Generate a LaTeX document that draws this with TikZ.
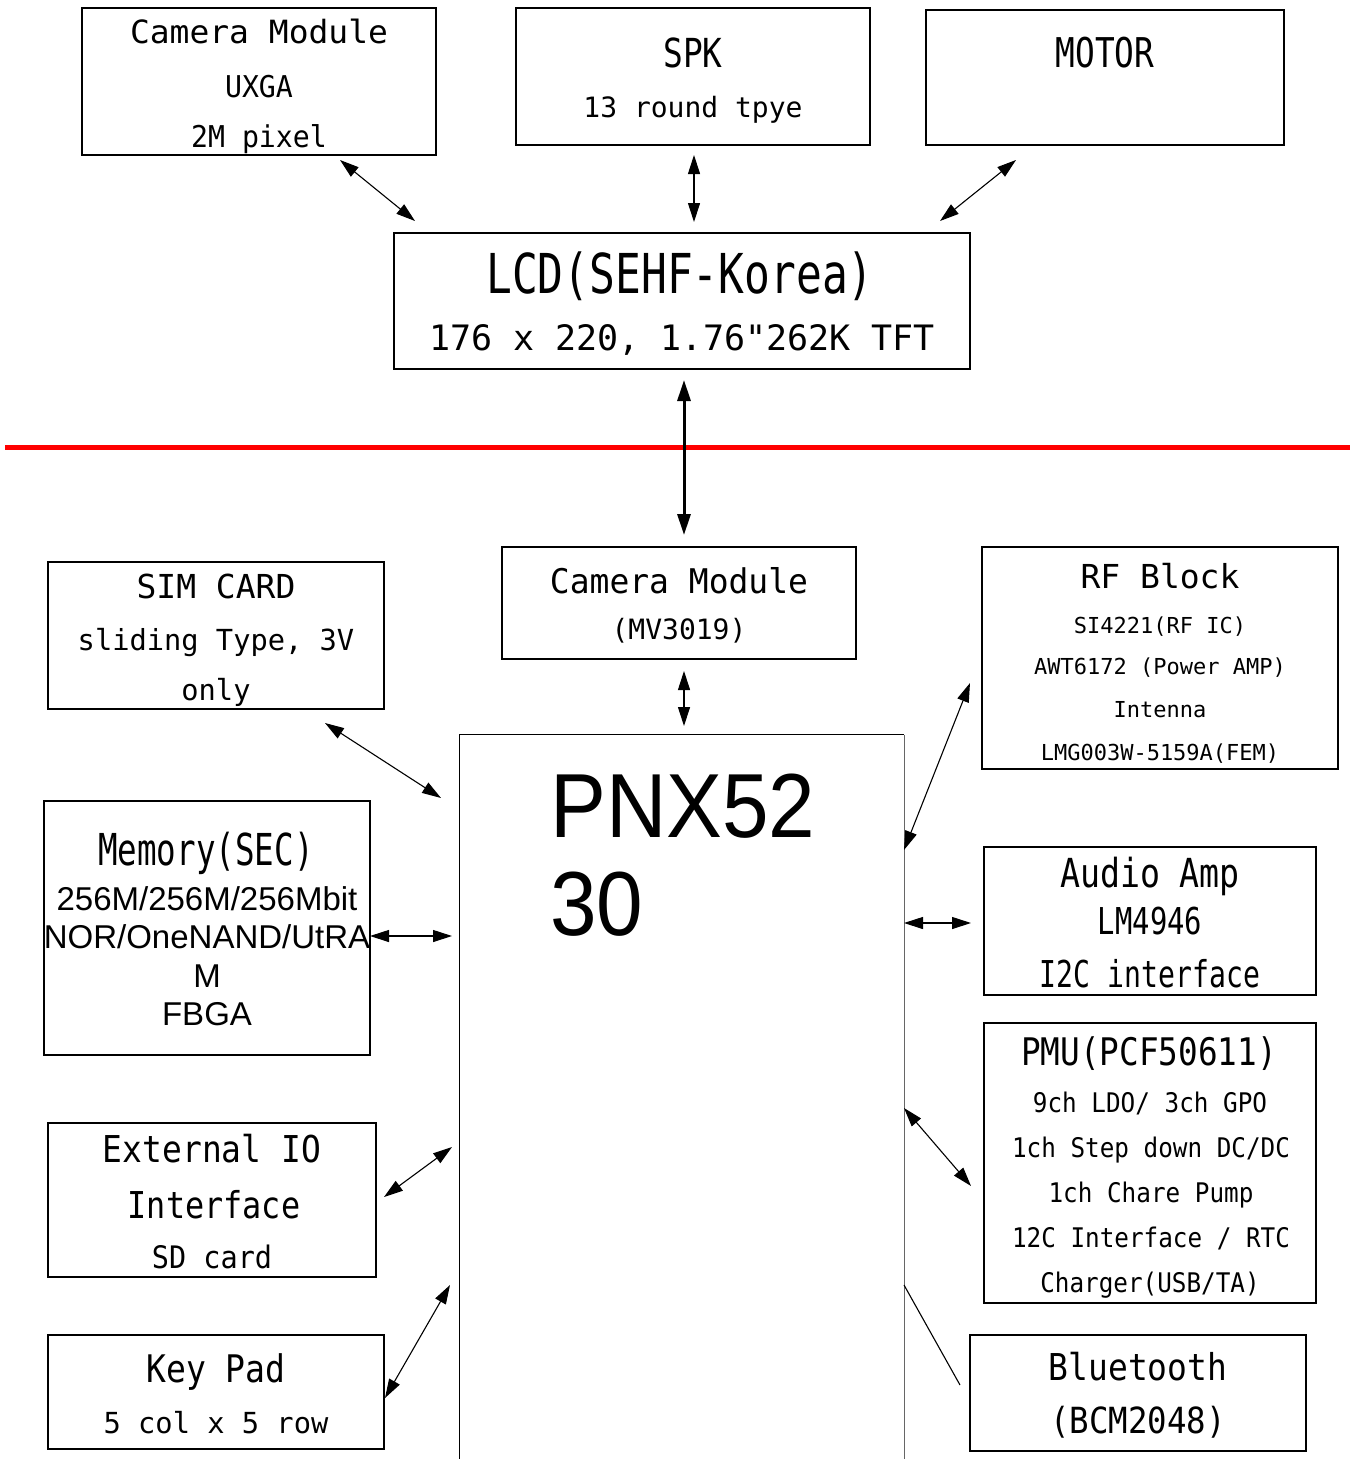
\documentclass[tikz,border=0pt]{standalone}
\usepackage{fontspec}
\usepackage{graphicx}
\setmainfont{DejaVu Sans Mono}[Ligatures=TeXOff]
\newfontfamily\arialf{Liberation Sans}
\usetikzlibrary{arrows.meta}
\newcommand\tx[3]{{\fontsize{#1}{#1}\selectfont\scalebox{#2}[1]{#3}}}
\newcommand\ta[3]{{\arialf\fontsize{#1}{#1}\selectfont\scalebox{#2}[1]{#3}}}
\begin{document}
\begin{tikzpicture}[x=1pt,y=-1pt,
  box/.style={draw, line width=1.3pt, rectangle, inner sep=0pt},
  lbl/.style={inner sep=0pt, anchor=base},
  bi/.style={{Triangle[length=19pt,width=12pt]}-{Triangle[length=19pt,width=12pt]}, line width=1.1pt},
  bithick/.style={{Triangle[length=21pt,width=13pt]}-{Triangle[length=21pt,width=13pt]}, line width=3pt},
  divider/.style={draw=red, line width=5pt}]
\useasboundingbox (0,0) rectangle (1355,1459);

% ---------- boxes ----------
\node[box, minimum width=354pt, minimum height=147pt] (camtop) at (259,81.5) {};
\node[box, minimum width=354pt, minimum height=137pt] (spk) at (693,76.5) {};
\node[box, minimum width=358pt, minimum height=135pt] (motor) at (1105,77.5) {};
\node[box, minimum width=576pt, minimum height=136pt] (lcd) at (682,301) {};
\node[box, minimum width=336pt, minimum height=147pt] (sim) at (216,635.5) {};
\node[box, minimum width=354pt, minimum height=112pt] (cammid) at (679,603) {};
\node[box, minimum width=356pt, minimum height=222pt] (rf) at (1160,658) {};
\node[box, minimum width=326pt, minimum height=254pt] (mem) at (207,928) {};
\node[box, minimum width=332pt, minimum height=148pt] (audio) at (1150,921) {};
\node[box, minimum width=332pt, minimum height=280pt] (pmu) at (1150,1163) {};
\node[box, minimum width=328pt, minimum height=154pt] (extio) at (212,1200) {};
\node[box, minimum width=336pt, minimum height=114pt] (keypad) at (216,1392) {};
\node[box, minimum width=336pt, minimum height=116pt] (bt) at (1138,1393) {};
\node[inner sep=0pt, minimum width=444pt, minimum height=734pt] (pnx) at (682,1102) {};
\draw[line width=1.3pt] (pnx.south west) -- (pnx.north west) -- (pnx.north east);
\draw[line width=1.3pt, black!60] (pnx.north east) -- (pnx.south east);

% ---------- texts ----------
\node[lbl] (t1) at (259,43) {\tx{32}{1.03}{Camera Module}};
\node[lbl] (t2) at (259,97) {\tx{30}{0.94}{UXGA}};
\node[lbl] (t3) at (259,147) {\tx{30}{0.94}{2M pixel}};
\node[lbl] (t4) at (693,67) {\tx{40}{0.82}{SPK}};
\node[lbl] (t5) at (693,117) {\tx{28}{1.0}{13 round tpye}};
\node[lbl] (t6) at (1105,67) {\tx{41}{0.8}{MOTOR}};
\node[lbl] (t7) at (680,293) {\tx{55}{0.78}{LCD(SEHF-Korea)}};
\node[lbl] (t8) at (682,350) {\tx{35}{1.0}{176 x 220, 1.76"262K TFT}};
\node[lbl] (t9) at (216,598) {\tx{33}{1.0}{SIM CARD}};
\node[lbl] (t10) at (216,650) {\tx{29}{0.99}{sliding Type, 3V}};
\node[lbl] (t11) at (216,700) {\tx{29}{0.99}{only}};
\node[lbl] (t12) at (679,593) {\tx{34}{0.97}{Camera Module}};
\node[lbl] (t13) at (679,639) {\tx{28}{1.0}{(MV3019)}};
\node[lbl] (t14) at (1160,588) {\tx{33}{1.0}{RF Block}};
\node[lbl] (t15) at (1160,633) {\tx{22}{1.0}{SI4221(RF IC)}};
\node[lbl] (t16) at (1160,674) {\tx{22}{1.0}{AWT6172 (Power AMP)}};
\node[lbl] (t17) at (1160,717) {\tx{22}{1.0}{Intenna}};
\node[lbl] (t18) at (1160,760) {\tx{22}{1.0}{LMG003W-5159A(FEM)}};
\node[lbl] (t19) at (206,865) {\tx{44}{0.74}{Memory(SEC)}};
\node[lbl] (t20) at (207,910) {\ta{33}{1.0}{256M/256M/256Mbit}};
\node[lbl] (t21) at (207,948) {\ta{33}{1.0}{NOR/OneNAND/UtRA}};
\node[lbl] (t22) at (207,987) {\ta{33}{1.0}{M}};
\node[lbl] (t23) at (207,1025) {\ta{33}{1.0}{FBGA}};
\node[lbl] (t24) at (1150,887) {\tx{40}{0.83}{Audio Amp}};
\node[lbl] (t25) at (1150,934) {\tx{37}{0.78}{LM4946}};
\node[lbl] (t26) at (1150,987) {\tx{37}{0.76}{I2C interface}};
\node[lbl] (t27) at (1149,1065) {\tx{38}{0.86}{PMU(PCF50611)}};
\node[lbl] (t28) at (1150,1112) {\tx{27}{0.9}{9ch LDO/ 3ch GPO}};
\node[lbl] (t29) at (1151,1157) {\tx{27}{0.9}{1ch Step down DC/DC}};
\node[lbl] (t30) at (1151,1202) {\tx{27}{0.9}{1ch Chare Pump}};
\node[lbl] (t31) at (1151,1247) {\tx{27}{0.9}{12C Interface / RTC}};
\node[lbl] (t32) at (1150,1292) {\tx{27}{0.9}{Charger(USB/TA)}};
\node[lbl] (t33) at (212,1162) {\tx{37}{0.89}{External IO}};
\node[lbl] (t34) at (214,1218) {\tx{37}{0.86}{Interface}};
\node[lbl] (t35) at (212,1268) {\tx{31}{0.92}{SD card}};
\node[lbl] (t36) at (216,1382) {\tx{38}{0.87}{Key Pad}};
\node[lbl] (t37) at (216,1433) {\tx{29}{0.99}{5 col x 5 row}};
\node[lbl] (t38) at (1138,1380) {\tx{37}{0.89}{Bluetooth}};
\node[lbl] (t39) at (1138,1433) {\tx{36}{0.9}{(BCM2048)}};
\node[inner sep=0pt, anchor=base west] (p1) at (550,837) {\ta{91}{0.92}{PNX52}};
\node[inner sep=0pt, anchor=base west] (p2) at (550,935) {\ta{91}{0.92}{30}};

% ---------- divider ----------
\coordinate (divL) at (5,447);
\coordinate (divR) at (1350,447);
\draw[divider] (divL) -- (divR);

% ---------- connector end points ----------
\coordinate (a1) at (340,160);  \coordinate (b1) at (415,221);
\coordinate (a2) at (694,155);  \coordinate (b2) at (694,222);
\coordinate (a3) at (1016,160); \coordinate (b3) at (940,221);
\coordinate (a4) at (684,380);  \coordinate (b4) at (684,535);
\coordinate (a5) at (684,671);  \coordinate (b5) at (684,726);
\coordinate (a6) at (325,723);  \coordinate (b6) at (441,798);
\coordinate (a7) at (370,936);  \coordinate (b7) at (452,936);
\coordinate (a8) at (384,1197); \coordinate (b8) at (452,1147);
\coordinate (a9) at (385,1398); \coordinate (b9) at (450,1285);
\coordinate (a10) at (970,683); \coordinate (b10) at (904,850);
\coordinate (a11) at (971,923); \coordinate (b11) at (904,923);
\coordinate (a12) at (971,1186);\coordinate (b12) at (904,1108);
\coordinate (a13) at (904,1285);\coordinate (b13) at (960,1385);

\draw[bi] (a1) -- (b1);
\draw[bi] (a2) -- (b2);
\draw[bi] (a3) -- (b3);
\draw[bithick] (a4) -- (b4);
\draw[bi] (a5) -- (b5);
\draw[bi] (a6) -- (b6);
\draw[bi] (a7) -- (b7);
\draw[bi] (a8) -- (b8);
\draw[bi] (a9) -- (b9);
\draw[bi] (a10) -- (b10);
\draw[bi] (a11) -- (b11);
\draw[bi] (a12) -- (b12);
\draw[line width=1.1pt] (a13) -- (b13);
\end{tikzpicture}
\end{document}
